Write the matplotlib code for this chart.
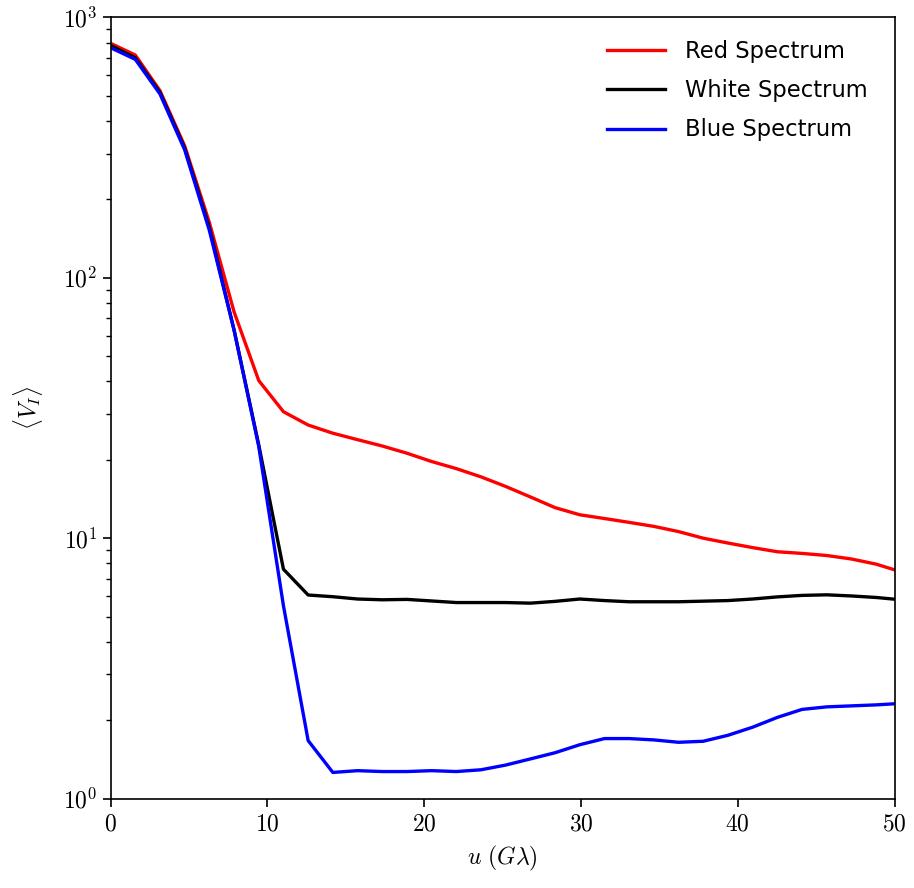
import numpy as np
import matplotlib
matplotlib.use('Agg')
import matplotlib.pyplot as plt

plt.rcParams['mathtext.fontset'] = 'cm'

# baseline grid (G lambda)
u = np.arange(33) * 1.575

red = [795, 717, 523, 321, 163, 74, 40.3, 30.6, 27.2, 25.3, 23.9, 22.6, 21.2,
       19.7, 18.5, 17.2, 15.8, 14.4, 13.1, 12.3, 11.9, 11.5, 11.1, 10.6, 10.0,
       9.58, 9.20, 8.87, 8.74, 8.58, 8.32, 7.95, 7.43]
white = [780, 700, 515, 315, 156, 63, 22.8, 7.6, 6.05, 5.96, 5.84, 5.80, 5.82,
         5.74, 5.66, 5.66, 5.66, 5.63, 5.72, 5.84, 5.76, 5.70, 5.70, 5.70, 5.73,
         5.76, 5.84, 5.95, 6.03, 6.06, 6.00, 5.92, 5.80]
blue = [765, 690, 508, 310, 152, 63, 22.5, 5.5, 1.67, 1.26, 1.28, 1.27, 1.27,
        1.28, 1.27, 1.29, 1.345, 1.42, 1.50, 1.61, 1.70, 1.70, 1.68, 1.645, 1.66,
        1.75, 1.88, 2.05, 2.20, 2.25, 2.27, 2.29, 2.32]

xticks = [0, 10, 20, 30, 40, 50]
yticks = [1, 10, 100, 1000]

fig = plt.figure(figsize=(9.14, 8.88), dpi=100)
ax = fig.add_axes([0.121, 0.1007, 0.8577, 0.8797])

ax.plot(u, red, color='red', lw=2.4, label='Red Spectrum')
ax.plot(u, white, color='black', lw=2.4, label='White Spectrum')
ax.plot(u, blue, color='blue', lw=2.4, label='Blue Spectrum')

ax.set_yscale('log')
ax.set_xlim(0, 50)
ax.set_ylim(1, 1000)
ax.set_xticks(xticks, [rf'${t}$' for t in xticks])
ax.set_yticks(yticks, [rf'$10^{{{int(np.log10(t))}}}$' for t in yticks])
ax.tick_params(labelsize=17, length=6, width=1.2)
ax.tick_params(which='minor', length=3.5, width=1.0)
for s in ax.spines.values():
    s.set_linewidth(1.2)

ax.set_xlabel(r'$u\ (G\lambda)$', fontsize=17, labelpad=6)
ax.set_ylabel(r'$\langle V_I \rangle$', fontsize=17, labelpad=13)

ax.legend(loc='upper right', bbox_to_anchor=(1, 1.006), frameon=False,
          prop={'family': 'DejaVu Sans', 'size': 16.3},
          handlelength=2.6, handletextpad=0.85, labelspacing=0.72, borderaxespad=0.8)

plt.savefig('out.png', dpi=100)
